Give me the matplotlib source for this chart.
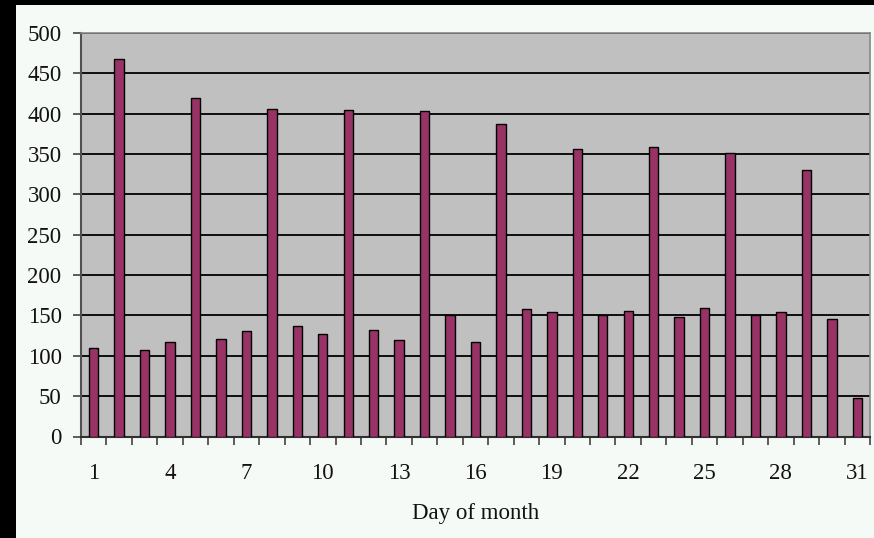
import matplotlib
matplotlib.use("Agg")
import matplotlib.pyplot as plt
from matplotlib.patches import Rectangle
from matplotlib.ticker import FixedLocator, NullFormatter

days = list(range(1, 32))
counts = [110, 468, 107, 117, 420, 121, 131, 406, 137, 127,
          405, 132, 119, 403, 151, 117, 387, 158, 154, 356,
          150, 156, 359, 148, 159, 351, 150, 154, 330, 146, 48]
labelled_days = [1, 4, 7, 10, 13, 16, 19, 22, 25, 28, 31]
y_ticks = [0, 50, 100, 150, 200, 250, 300, 350, 400, 450, 500]

W, H = 874, 538
fig = plt.figure(figsize=(W / 100, H / 100), dpi=100)
fig.patch.set_facecolor("#f6faf7")

# dark frame strips on the left and top edges
fig.patches.append(Rectangle((0, 0), 16 / W, 1, transform=fig.transFigure,
                             facecolor="black", edgecolor="none", zorder=0))
fig.patches.append(Rectangle((0, 1 - 5 / H), 1, 5 / H, transform=fig.transFigure,
                             facecolor="black", edgecolor="none", zorder=0))

left, right, top, bottom = 81, 870, 33, 436.5
ax = fig.add_axes([left / W, 1 - bottom / H, (right - left) / W, (bottom - top) / H])
ax.set_facecolor("#c0c0c0")

xpos = list(range(len(days)))
ax.bar(xpos, counts, width=0.37, color="#993366", edgecolor="black",
       linewidth=1.0, zorder=3)

ax.set_xlim(-0.5, len(days) - 0.5)
ax.set_ylim(0, 500)

font = {"family": "Liberation Serif", "size": 16.5, "color": "#111111"}

ax.set_yticks(y_ticks)
ax.set_yticklabels([str(v) for v in y_ticks], **font)
ax.yaxis.grid(True, color="black", linewidth=1.3, zorder=1)
ax.set_axisbelow(True)
ax.tick_params(axis="y", direction="out", length=6, width=1.2,
               color="#404040", pad=8)

# labels under every third day; tick marks on the category boundaries
ax.xaxis.set_major_locator(FixedLocator([d - 1 for d in labelled_days]))
ax.set_xticklabels([str(d) for d in labelled_days], **font)
ax.xaxis.set_minor_locator(FixedLocator([i + 0.5 for i in range(-1, len(days))]))
ax.xaxis.set_minor_formatter(NullFormatter())
ax.tick_params(axis="x", which="major", length=0, pad=19)
ax.tick_params(axis="x", which="minor", direction="out", length=6, width=1.2,
               color="#404040")
ax.set_xlabel("Day of month", labelpad=14, **font)

ax.spines["left"].set_color("#505050")
ax.spines["left"].set_linewidth(1.5)
ax.spines["bottom"].set_color("#303030")
ax.spines["bottom"].set_linewidth(1.5)
ax.spines["top"].set_color("#888888")
ax.spines["top"].set_linewidth(1.2)
ax.spines["right"].set_color("#888888")
ax.spines["right"].set_linewidth(1.2)

fig.savefig("out.png", dpi=100, facecolor=fig.get_facecolor())
